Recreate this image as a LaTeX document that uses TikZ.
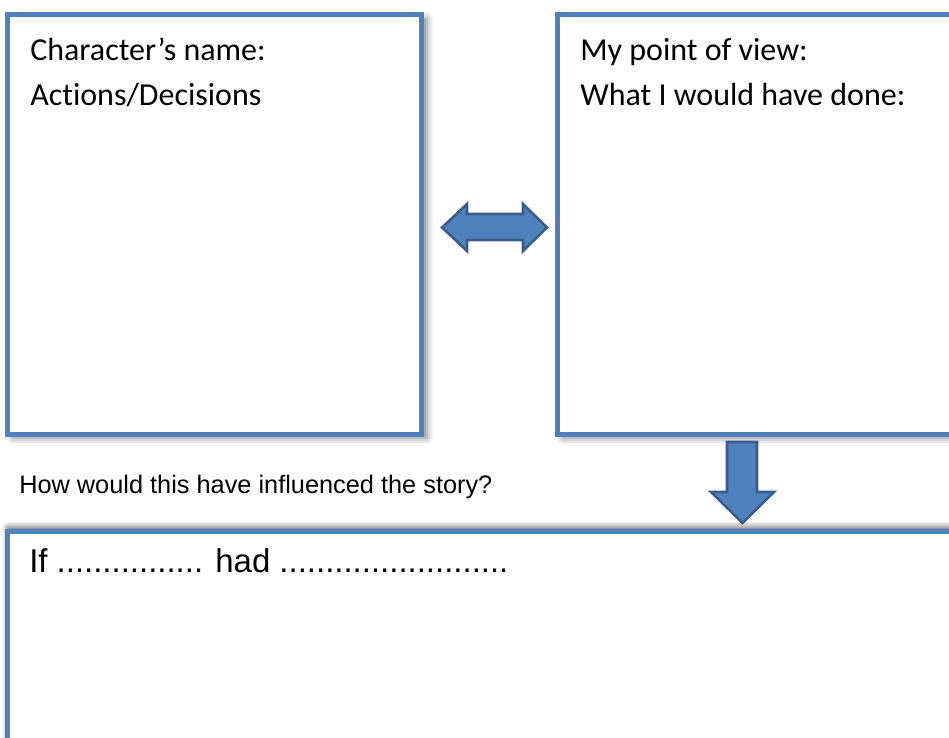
\documentclass[tikz,border=0pt]{standalone}
\usepackage{fontspec}
\usepackage{tikz}
\usetikzlibrary{shadows.blur}
\newfontfamily\boxfont[Ligatures=NoCommon]{Carlito}
\newfontfamily\plainfont{Liberation Sans}
\definecolor{officeblue}{HTML}{4F81BD}
\definecolor{officeedge}{HTML}{385D8A}

\begin{document}
\begin{tikzpicture}[x=0.75pt, y=-0.75pt,
    frame/.style={draw=officeblue, fill=white, line width=3.75pt,
      blur shadow={shadow xshift=4pt, shadow yshift=-3pt,
        shadow blur radius=5pt, shadow opacity=50}},
    blockarrow/.style={draw=officeedge, fill=officeblue, line width=1.9pt,
      line join=miter},
    boxtext/.style={anchor=base west, inner sep=0pt, font=\boxfont\fontsize{24}{28}\selectfont},
    asktext/.style={anchor=base west, inner sep=0pt, font=\plainfont},
  ]
  \useasboundingbox (0,0) rectangle (949,738);
  \clip (0,0) rectangle (949,738);

  % the two upper boxes and the answer box below (cut at the page edge)
  \draw[frame] (7.5,14.5) rectangle (421.5,434);
  \draw[frame] (557.5,14.5) rectangle (975,434);
  \draw[frame, blur shadow={shadow xshift=0pt, shadow yshift=3pt,
      shadow blur radius=4pt, shadow opacity=35}] (7.5,531) rectangle (975,770);

  % left box: the character
  \node[boxtext] (charname) at (30,61) {Character’s name:};
  \node[boxtext] (actions)  at (30,106) {Actions/Decisions};

  % right box: the reader
  \node[boxtext] (view) at (580,61) {My point of view:};
  \node[boxtext] (done) at (580,106) {What I would have done:};

  % two-way arrow between the boxes
  \draw[blockarrow] (442,227.5) -- (467,204) -- (467,214) -- (523,214)
    -- (523,204) -- (547,227.5) -- (523,251) -- (523,240) -- (467,240)
    -- (467,251) -- cycle;

  % arrow down to the answer box
  \draw[blockarrow] (727,442) -- (757,442) -- (757,492) -- (774,492)
    -- (742.5,523) -- (711,492) -- (727,492) -- cycle;

  \node[asktext, font=\plainfont\fontsize{19}{22}\selectfont] (question) at (19,493)
    {How would this have influenced the story?};
  \node[asktext, font=\plainfont\fontsize{24.7}{28}\selectfont] (ifline) at (29,572)
    {If ................ had .........................};
\end{tikzpicture}
\end{document}
